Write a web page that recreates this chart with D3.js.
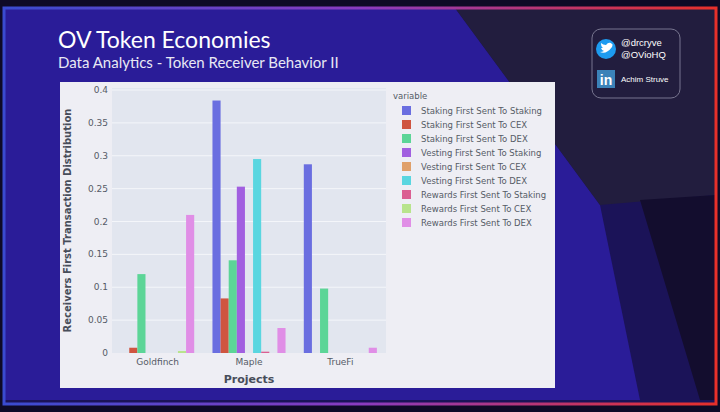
<!DOCTYPE html>
<html><head><meta charset="utf-8">
<script src="https://cdn.jsdelivr.net/npm/d3@7"></script>
<style>body{margin:0;background:#0e0a26}svg{display:block}</style>
</head><body><svg id="c" width="720" height="412"></svg>
<script>
const projects = ["Goldfinch","Maple","TrueFi"];
const seriesNames = ["Staking First Sent To Staking","Staking First Sent To CEX","Staking First Sent To DEX","Vesting First Sent To Staking","Vesting First Sent To CEX","Vesting First Sent To DEX","Rewards First Sent To Staking","Rewards First Sent To CEX","Rewards First Sent To DEX"];
const goldfinch = [0, 0.008, 0.12, 0, 0, 0, 0, 0.003, 0.21];
const maple     = [0.384, 0.083, 0.141, 0.253, 0, 0.295, 0.002, 0, 0.038];
const truefi    = [0.287, 0, 0.098, 0, 0, 0, 0, 0, 0.008];
const yTicks = [0,0.05,0.1,0.15,0.2,0.25,0.3,0.35,0.4];
const colors = ["#6a6ee0","#cf5540","#5cd597","#a15fe0","#e0a06a","#5ad6e0","#db5f92","#b8e48c","#e08ee6"];
const values = [goldfinch, maple, truefi];

const svg = d3.select("#c");
const defs = svg.append("defs");
const g1 = defs.append("linearGradient").attr("id","fr");
g1.append("stop").attr("offset","0").attr("stop-color","#3a4bd0");
g1.append("stop").attr("offset","0.5").attr("stop-color","#8a3bc0");
g1.append("stop").attr("offset","1").attr("stop-color","#e8302a");

// slide background
svg.append("rect").attr("x",4).attr("y",8).attr("width",712).attr("height",396).attr("fill","#1b1358");
svg.append("polygon").attr("points","4,8 455,8 600,205 640,400 4,400").attr("fill","#2a1c98");
svg.append("polygon").attr("points","455,8 716,8 716,195 600,205").attr("fill","#221d3e");
svg.append("polygon").attr("points","640,200 716,195 716,400 700,400").attr("fill","#130d2e");
svg.append("rect").attr("x",4).attr("y",8).attr("width",712).attr("height",396).attr("fill","none").attr("stroke","url(#fr)").attr("stroke-width",3);

svg.append("text").attr("x",58).attr("y",48).attr("fill","#fff").attr("font-family","Lato, sans-serif").attr("font-size",23).text("OV Token Economies");
svg.append("text").attr("x",58).attr("y",68).attr("fill","#e8e8f4").attr("font-family","Lato, sans-serif").attr("font-size",15).text("Data Analytics - Token Receiver Behavior II");

// social box
svg.append("rect").attr("x",592).attr("y",29).attr("width",88).attr("height",69).attr("rx",9).attr("fill","none").attr("stroke","#77758f").attr("stroke-width",1);
svg.append("circle").attr("cx",606).attr("cy",49).attr("r",10).attr("fill","#1d9bf0");
svg.append("text").attr("x",606).attr("y",53).attr("text-anchor","middle").attr("fill","#fff").attr("font-size",11).attr("font-family","DejaVu Sans").text("🐦").attr("opacity",0);
svg.append("path").attr("d","M600,52 q6,3 12,-5 q1,-3 0,-3 q-3,-3 -6,1 q-3,0 -5,-2 q0,4 2,5 q-2,0 -2,0 q1,3 3,3 q-2,1 -4,1z").attr("fill","#fff");
svg.append("text").attr("x",621).attr("y",46).attr("fill","#fff").attr("font-family","Liberation Sans, Arial").attr("font-size",9.5).text("@drcryve");
svg.append("text").attr("x",621).attr("y",58).attr("fill","#fff").attr("font-family","Liberation Sans, Arial").attr("font-size",9.5).text("@OVioHQ");
svg.append("rect").attr("x",597).attr("y",70).attr("width",18).attr("height",18).attr("fill","#3b82b8");
svg.append("text").attr("x",606).attr("y",85).attr("text-anchor","middle").attr("fill","#fff").attr("font-family","Liberation Sans, Arial").attr("font-weight","bold").attr("font-size",14).text("in");
svg.append("text").attr("x",621).attr("y",82).attr("fill","#fff").attr("font-family","Liberation Sans, Arial").attr("font-size",8).text("Achim Struve");

// chart card
svg.append("rect").attr("x",60).attr("y",82).attr("width",495).attr("height",306).attr("fill","#eeeef4");
const L=112,R=386,T=88,B=353;
svg.append("rect").attr("x",L).attr("y",T).attr("width",R-L).attr("height",B-T).attr("fill","#e2e6ef");
const y = d3.scaleLinear().domain([0,0.4]).range([B,90]);
const x0 = d3.scaleBand().domain(projects).range([L,R]).paddingInner(0.2).paddingOuter(0.1);
const x1 = d3.scaleBand().domain(seriesNames).range([0,x0.bandwidth()]);
const F="DejaVu Sans, sans-serif";
yTicks.forEach(t=>{
  if(t>0) svg.append("line").attr("x1",L).attr("x2",R).attr("y1",y(t)).attr("y2",y(t)).attr("stroke","#f4f6fa").attr("stroke-width",1);
  svg.append("text").attr("x",L-4).attr("y",y(t)+3).attr("text-anchor","end").attr("font-family",F).attr("font-size",9).attr("fill","#555b66").text(t);
});
projects.forEach((p,i)=>{
  const gx = x0(p);
  values[i].forEach((v,j)=>{
    if(v<=0) return;
    svg.append("rect").attr("x",gx+x1(seriesNames[j])).attr("y",y(v)).attr("width",x1.bandwidth()).attr("height",B-y(v)).attr("fill",colors[j]);
  });
  svg.append("text").attr("x",gx+x0.bandwidth()/2).attr("y",B+12).attr("text-anchor","middle").attr("font-family",F).attr("font-size",9).attr("fill","#555b66").text(p);
});
svg.append("text").attr("x",(L+R)/2).attr("y",383).attr("text-anchor","middle").attr("font-family",F).attr("font-weight","bold").attr("font-size",11).attr("fill","#474d5a").text("Projects");
svg.append("text").attr("transform",`translate(71,${(T+B)/2}) rotate(-90)`).attr("text-anchor","middle").attr("font-family",F).attr("font-weight","bold").attr("font-size",10).attr("fill","#474d5a").text("Receivers First Transaction Distribution");

// legend
svg.append("text").attr("x",393).attr("y",99).attr("font-family",F).attr("font-size",8.5).attr("fill","#555b66").text("variable");
seriesNames.forEach((s,j)=>{
  const yy=110+j*14;
  svg.append("rect").attr("x",402).attr("y",yy-4).attr("width",9).attr("height",9).attr("fill",colors[j]);
  svg.append("text").attr("x",421).attr("y",yy+4).attr("font-family",F).attr("font-size",8.5).attr("fill","#555b66").text(s);
});
</script></body></html>
